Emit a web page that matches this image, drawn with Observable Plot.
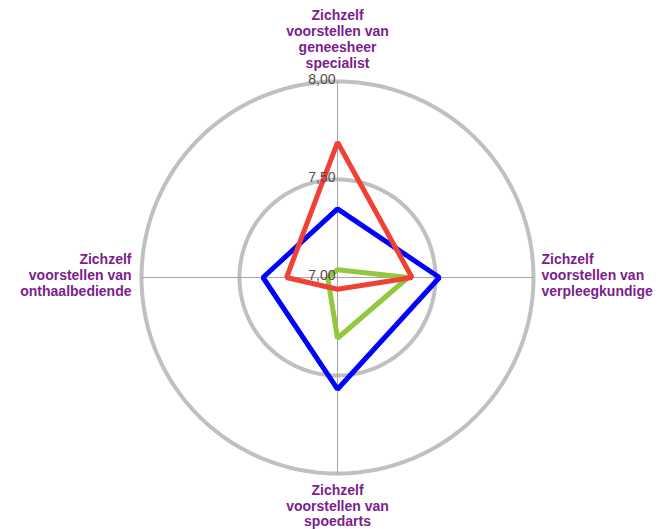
<!DOCTYPE html>
<html><head><meta charset="utf-8">
<script src="https://cdn.jsdelivr.net/npm/d3@7"></script>
<script src="https://cdn.jsdelivr.net/npm/@observablehq/plot@0.6"></script>
<style>body{margin:0;background:#fff;} #chart svg{display:block;}</style>
</head><body><div id="chart"></div>
<script>
const categories = [
  "Zichzelf\nvoorstellen van\ngeneesheer\nspecialist",
  "Zichzelf\nvoorstellen van\nverpleegkundige",
  "Zichzelf\nvoorstellen van\nspoedarts",
  "Zichzelf\nvoorstellen van\nonthaalbediende"
];
const seriesNames = ["Reeks 3", "Reeks 1", "Reeks 2"];
const seriesColors = ["#92C83E", "#0000FF", "#EF4136"];
const greenValues = [7.04, 7.36, 7.31, 7.05];
const blueValues = [7.35, 7.52, 7.57, 7.38];
const redValues = [7.69, 7.38, 7.06, 7.26];
const tickValues = [7.0, 7.5, 8.0];
const tickLabels = ["7,00", "7,50", "8,00"];
const rMin = 7, rMax = 8;

const ang = i => i * Math.PI / 2;
const px = (v, i) => (v - rMin) * Math.sin(ang(i));
const py = (v, i) => (v - rMin) * Math.cos(ang(i));

const allSeries = [greenValues, blueValues, redValues];
const rows = [];
allSeries.forEach((vals, s) => vals.forEach((v, i) => rows.push({series: seriesNames[s], i, value: v})));

// grid circles (non-zero ticks)
const gridRows = [];
tickValues.filter(t => t > rMin).forEach(t => {
  for (let k = 0; k <= 360; k += 2) {
    const a = k * Math.PI / 180;
    gridRows.push({tick: t, x: (t - rMin) * Math.sin(a), y: (t - rMin) * Math.cos(a)});
  }
});

const font = "Liberation Sans, Arial, sans-serif";
const purple = "#7B1E8C";
const labelSpecs = [
  {textAnchor: "middle", lineAnchor: "bottom", dx: 0, dy: -14},
  {textAnchor: "start", lineAnchor: "middle", dx: 8, dy: -2.5},
  {textAnchor: "middle", lineAnchor: "top", dx: 0, dy: 10.5},
  {textAnchor: "end", lineAnchor: "middle", dx: -10, dy: -2.5}
];

const chart = Plot.plot({
  width: 660, height: 529, margin: 0,
  x: {domain: [-337 / 196, 323 / 196], axis: null},
  y: {domain: [-252 / 196, 277 / 196], axis: null},
  color: {domain: seriesNames, range: seriesColors},
  style: {background: "#fff"},
  marks: [
    Plot.line(gridRows, {x: "x", y: "y", z: "tick", stroke: "#C0C0C0", strokeWidth: 4}),
    Plot.link(categories, {x1: 0, y1: 0, x2: (d, i) => px(rMax, i), y2: (d, i) => py(rMax, i), stroke: "#A6A6A6", strokeWidth: 1}),
    Plot.line(rows, {x: d => px(d.value, d.i), y: d => py(d.value, d.i), z: "series", stroke: "series", curve: "linear-closed", strokeWidth: 5, strokeLinejoin: "miter"}),
    ...categories.map((c, i) => Plot.text([c], {
      x: px(rMax, i), y: py(rMax, i), text: d => d,
      textAnchor: labelSpecs[i].textAnchor, lineAnchor: labelSpecs[i].lineAnchor,
      dx: labelSpecs[i].dx, dy: labelSpecs[i].dy, lineHeight: 1.12,
      fill: purple, fontWeight: "bold", fontSize: 14, fontFamily: font,
      letterSpacing: "0.3px"
    })),
    Plot.text(tickValues, {x: 0, y: d => d - rMin, text: (d, i) => tickLabels[i], textAnchor: "end", dx: -2, dy: -2,
      fill: "#4D4D4D", fontSize: 14, fontFamily: font})
  ]
});
document.getElementById("chart").append(chart);
</script>
</body></html>
